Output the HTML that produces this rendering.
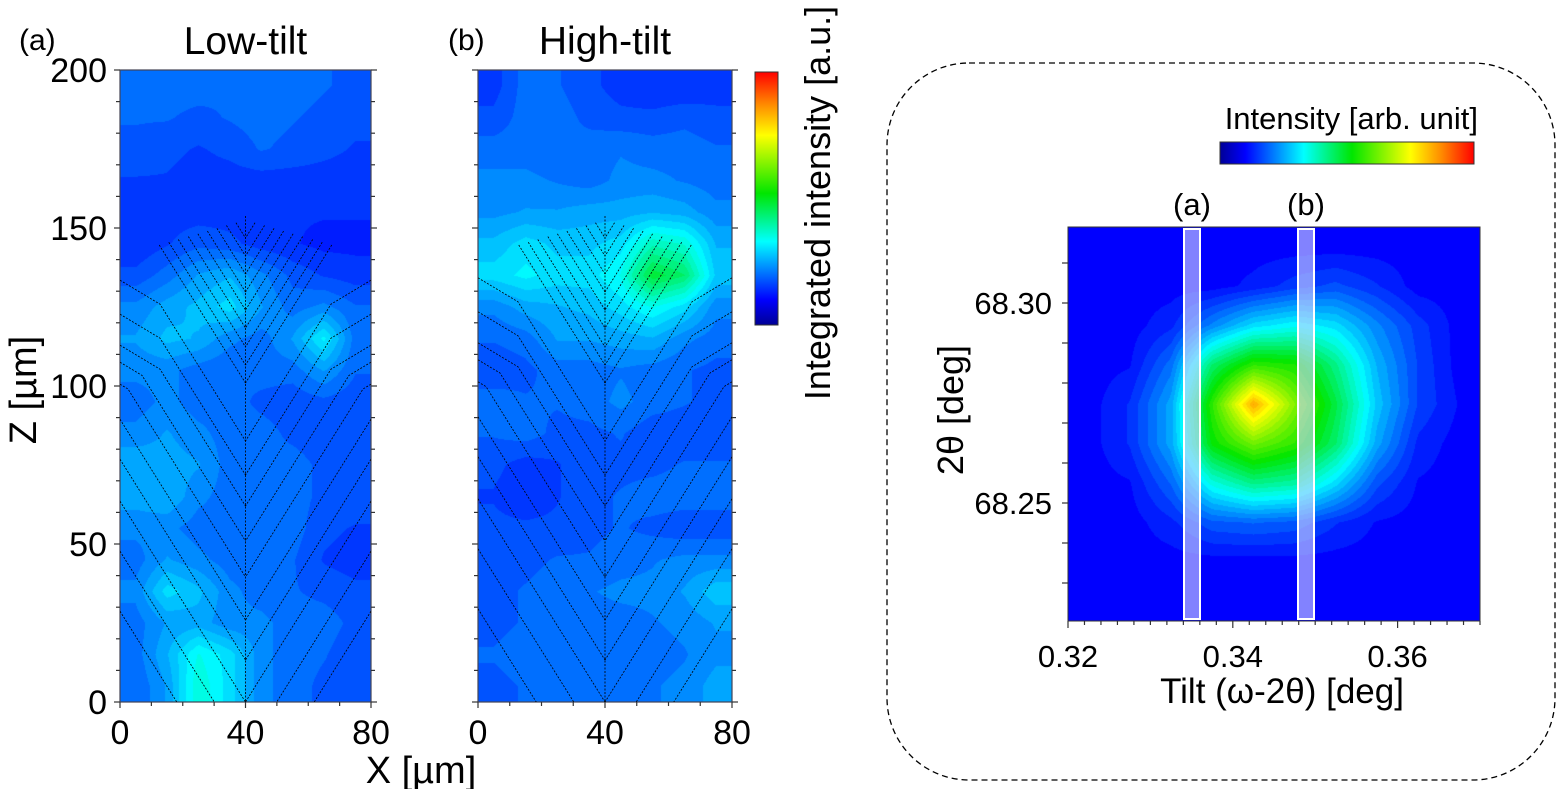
<!DOCTYPE html>
<html><head><meta charset="utf-8">
<style>
body{margin:0;background:#fff;width:1561px;height:789px;overflow:hidden;position:relative;font-family:"Liberation Sans",sans-serif}
canvas{position:absolute}
svg{position:absolute;left:0;top:0}
</style></head>
<body>
<canvas id="cA" width="251" height="632" style="left:120px;top:70px"></canvas>
<canvas id="cB" width="254" height="632" style="left:478px;top:70px"></canvas>
<canvas id="cR" width="412" height="394" style="left:1068px;top:227px"></canvas>
<svg id="s" width="1561" height="789"></svg>
<script>
// ---- data ----
const gridA = [
[.2,.2,.2,.19,.2,.2,.19,.18],
[.19,.19,.18,.19,.2,.19,.18,.17],
[.18,.17,.16,.17,.19,.18,.17,.16],
[.16,.16,.15,.15,.15,.15,.15,.15],
[.15,.15,.15,.15,.14,.14,.14,.14],
[.14,.16,.18,.17,.15,.14,.13,.13],
[.17,.2,.24,.26,.22,.18,.16,.15],
[.22,.25,.27,.3,.24,.2,.22,.19],
[.24,.27,.26,.22,.2,.24,.32,.2],
[.22,.22,.2,.19,.2,.2,.24,.19],
[.2,.22,.2,.2,.18,.17,.18,.17],
[.22,.24,.22,.2,.2,.18,.17,.17],
[.26,.25,.24,.2,.19,.2,.18,.17],
[.25,.26,.22,.2,.2,.2,.18,.18],
[.22,.22,.2,.2,.21,.2,.17,.16],
[.2,.24,.22,.2,.2,.19,.16,.15],
[.22,.3,.27,.22,.2,.19,.18,.17],
[.2,.24,.25,.22,.22,.2,.2,.18],
[.2,.26,.34,.3,.22,.2,.19,.17],
[.19,.24,.36,.3,.22,.2,.18,.17]];
const gridB = [
[.15,.2,.19,.17,.15,.14,.14,.15],
[.17,.2,.2,.18,.17,.17,.18,.17],
[.2,.2,.19,.2,.21,.2,.2,.19],
[.22,.22,.21,.2,.22,.22,.21,.2],
[.23,.24,.24,.25,.25,.26,.25,.22],
[.27,.3,.28,.28,.3,.38,.36,.26],
[.3,.32,.3,.3,.34,.48,.44,.28],
[.22,.25,.26,.27,.3,.34,.3,.22],
[.19,.2,.24,.24,.25,.26,.22,.2],
[.17,.18,.2,.2,.21,.2,.19,.18],
[.2,.19,.19,.2,.22,.2,.19,.18],
[.19,.2,.18,.18,.19,.17,.17,.17],
[.17,.15,.16,.18,.18,.18,.19,.19],
[.16,.14,.16,.18,.19,.2,.2,.2],
[.17,.17,.17,.18,.19,.18,.17,.17],
[.18,.18,.19,.19,.2,.21,.22,.22],
[.18,.19,.2,.21,.22,.22,.24,.28],
[.18,.19,.19,.2,.2,.21,.22,.24],
[.19,.2,.19,.19,.19,.2,.21,.23],
[.18,.19,.19,.19,.2,.21,.22,.25]];
const gridR = [
[.1,.1,.1,.1,.1,.1,.1,.1,.1,.1],
[.1,.1,.1,.1,.12,.15,.17,.14,.1,.1],
[.1,.1,.13,.22,.3,.33,.3,.22,.15,.1],
[.1,.11,.2,.44,.56,.54,.42,.26,.16,.1],
[.1,.14,.25,.56,.84,.64,.47,.28,.16,.11],
[.1,.14,.25,.52,.62,.56,.44,.25,.13,.1],
[.1,.11,.19,.35,.42,.4,.3,.17,.11,.1],
[.1,.1,.13,.18,.19,.18,.14,.11,.1,.1],
[.1,.1,.1,.1,.1,.1,.1,.1,.1,.1],
[.1,.1,.1,.1,.1,.1,.1,.1,.1,.1]];
const zTicks = [0,50,100,150,200];
const xTicks = [0,40,80];
const tiltTicks = [0.32,0.34,0.36];
const thetaTicks = [68.25,68.30];
const fineMeets = [150,168,186,204,222,240,258,277,295,313];
const longMeets = [371,405,436,471,507,550,590,632,682,742];
const longKinks = [40,40,40,22,8,0,0,0,0,0];

// ---- colormap ----
const stops=[[0,0,0,150],[.1,0,0,255],[.33,0,255,255],[.52,0,230,0],[.75,255,255,0],[.87,255,140,0],[1,255,0,0]];
function cmap(v){v=Math.max(0,Math.min(1,v));for(let i=1;i<stops.length;i++){if(v<=stops[i][0]){const a=stops[i-1],b=stops[i],t=(v-a[0])/(b[0]-a[0]);return [a[1]+(b[1]-a[1])*t,a[2]+(b[2]-a[2])*t,a[3]+(b[3]-a[3])*t];}}return [255,0,0];}
function draw(id,grid,levels){
  const c=document.getElementById(id),ctx=c.getContext('2d'),W=c.width,H=c.height;
  const img=ctx.createImageData(W,H),R=grid.length,C=grid[0].length;
  for(let y=0;y<H;y++)for(let x=0;x<W;x++){
    let gx=(x+.5)/W*C-.5,gy=(y+.5)/H*R-.5;
    gx=Math.max(0,Math.min(C-1.001,gx));gy=Math.max(0,Math.min(R-1.001,gy));
    const i=Math.floor(gx),j=Math.floor(gy),fx=gx-i,fy=gy-j;
    let v=grid[j][i]*(1-fx)*(1-fy)+grid[j][i+1]*fx*(1-fy)+grid[j+1][i]*(1-fx)*fy+grid[j+1][i+1]*fx*fy;
    v=Math.round(v*levels)/levels;
    const col=cmap(v),k=(y*W+x)*4;
    img.data[k]=col[0];img.data[k+1]=col[1];img.data[k+2]=col[2];img.data[k+3]=255;}
  ctx.putImageData(img,0,0);
}
draw('cA',gridA,40);draw('cB',gridB,40);draw('cR',gridR,40);

// ---- svg ----
const S=document.getElementById('s'),NS='http://www.w3.org/2000/svg';
function el(tag,attrs,parent){const e=document.createElementNS(NS,tag);for(const k in attrs)e.setAttribute(k,attrs[k]);(parent||S).appendChild(e);return e;}
function txt(x,y,s,size,anchor,extra){const t=el('text',Object.assign({x:x,y:y,'font-size':size,'text-anchor':anchor||'middle','font-family':'Liberation Sans, sans-serif',fill:'#000'},extra||{}));t.textContent=s;return t;}

function panel(x0,w,label,labelX,title,name){
  const top=70,bot=702,H=bot-top;
  const g=el('g',{});
  
  
  const zy=z=>bot-z/200*H, xx=x=>x0+x/80*w;
  el('rect',{x:x0,y:top,width:w,height:H,fill:'none',stroke:'#445',"stroke-width":1.2},g);
  for(let z=0;z<=200;z+=10){const L=z%50==0?6:4;el('line',{x1:x0-L,x2:x0,y1:zy(z),y2:zy(z),stroke:'#333','stroke-width':1.2},g);el('line',{x1:x0+w,x2:x0+w+L,y1:zy(z),y2:zy(z),stroke:'#333','stroke-width':1.2},g);}
  for(let x=0;x<=80;x+=10){const L=x%40==0?6:4;el('line',{x1:xx(x),x2:xx(x),y1:bot,y2:bot+L,stroke:'#333','stroke-width':1.2},g);}
  xTicks.forEach(v=>{const t=txt(xx(v),744,String(v),34);});
  const cp=el('clipPath',{id:'clip'+name},g);el('rect',{x:x0,y:top,width:w,height:H},cp);
  const lg=el('g',{stroke:'#000','stroke-width':0.8,'stroke-dasharray':'2,1.5',fill:'none','clip-path':'url(#clip'+name+')'},g);
  const cx=x0+w/2, half=w/2;
  el('line',{x1:cx,x2:cx,y1:top+fineMeets[0]-4,y2:bot},lg);
  fineMeets.forEach(m=>{const dd=(m-150)/1.89;[-1,1].forEach(s=>{const l=el('line',{x1:cx+s*dd,y1:top+m-1.6*dd,x2:cx,y2:top+m},lg);});});
  longMeets.forEach((m,i)=>{const k=longKinks[i];[-1,1].forEach(s=>{
    let pts=[];const yk=m-1.6*(half-k);
    if(k>0){pts=[[cx+s*half,top+yk-0.6*k],[cx+s*(half-k),top+yk],[cx,top+m]];}
    else{pts=[[cx+s*half,top+m-1.6*half],[cx,top+m]];}
    const p=el('polyline',{points:pts.map(q=>q.join(',')).join(' ')},lg);
    });});
  txt(labelX,50,label,30,'start',{});
  txt(x0+w/2,54,title,39,'middle',{});
  return zy;
}
const zy=panel(120,251,'(a)',19,'Low-tilt','panel-a');
panel(478,254,'(b)',448,'High-tilt','panel-b');
zTicks.forEach(z=>{const t=txt(107,zy(z)+12,String(z),34,'end');});
txt(36,390,'Z [µm]',38,'middle',{transform:'rotate(-90 36 390)',});
txt(421,783,'X [µm]',38,'middle',{});

// colorbars
const lgd=el('defs',{});
const lgrad=el('linearGradient',{id:'lg',x1:0,y1:1,x2:0,y2:0},lgd);
const hgrad=el('linearGradient',{id:'hg',x1:0,y1:0,x2:1,y2:0},lgd);
stops.forEach(s=>{el('stop',{offset:s[0],'stop-color':`rgb(${s[1]},${s[2]},${s[3]})`},lgrad);el('stop',{offset:s[0],'stop-color':`rgb(${s[1]},${s[2]},${s[3]})`},hgrad);});
el('rect',{x:755,y:72,width:23,height:253,fill:'url(#lg)',stroke:'#333','stroke-width':1,});
txt(830,203,'Integrated intensity [a.u.]',36,'middle',{transform:'rotate(-90 830 203)',});

// right panel
el('rect',{x:887,y:63,width:668,height:717,rx:82,ry:82,fill:'none',stroke:'#000','stroke-width':1.3,'stroke-dasharray':'6,4',});
txt(1478,129,'Intensity [arb. unit]',31,'end',{});
el('rect',{x:1220,y:142,width:254,height:22,fill:'url(#hg)',stroke:'#333','stroke-width':1,});
const RX0=1068,RW=412,RY0=227,RH=394;
const tx=v=>RX0+(v-0.32)/0.05*RW, ty=v=>RY0+RH-(v-68.2205)/0.0985*RH;
el('rect',{x:RX0,y:RY0,width:RW,height:RH,fill:'none',stroke:'#333','stroke-width':1});
for(let i=0;i<=25;i++){const v=0.32+i*0.002,L=(i%10==0)?7:4;el('line',{x1:tx(v),x2:tx(v),y1:RY0+RH,y2:RY0+RH+L,stroke:'#333','stroke-width':1.2});}
for(let i=0;i<10;i++){const y=ty(68.23+i*0.01);if(y>=RY0&&y<=RY0+RH)el('line',{x1:RX0-6,x2:RX0,y1:y,y2:y,stroke:'#333','stroke-width':1.2});}
tiltTicks.forEach(v=>{const t=txt(tx(v),667,v.toFixed(2),31);});
thetaTicks.forEach(v=>{const t=txt(1052,ty(v)+11,v.toFixed(2),31,'end');});
txt(1282,703,'Tilt (ω-2θ) [deg]',35,'middle',{});
txt(963,410,'2θ [deg]',36,'middle',{transform:'rotate(-90 963 410)',});
[['(a)',1192,'strip-a'],['(b)',1306,'strip-b']].forEach(([l,c,n])=>{
  const r=el('rect',{x:c-8,y:RY0+2,width:16,height:RH-4,fill:'rgba(210,210,255,0.62)',stroke:'#fff','stroke-width':2});
  
  txt(c,215,l,31,'middle',{});
});
</script>
</body></html>
